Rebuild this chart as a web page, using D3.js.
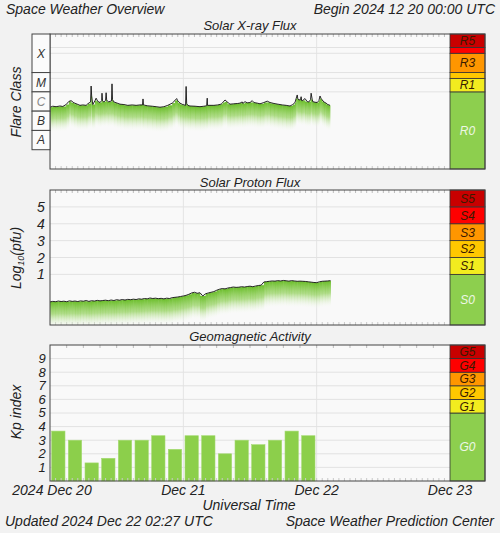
<!DOCTYPE html>
<html><head><meta charset="utf-8">
<script src="https://cdn.jsdelivr.net/npm/d3@7"></script>
<style>
body{margin:0;background:#f2f2f2;}
svg{display:block;font-family:"Liberation Sans",Arial,sans-serif;font-style:italic;}
</style></head><body>
<svg id="c" width="500" height="533"></svg>
<script>
// ---------------- DATA ----------------
const dayTicks = [0, 24, 48, 72];               // hours since 2024-12-20 00:00 UTC
const dayLabels = ["2024 Dec 20", "Dec 21", "Dec 22", "Dec 23"];

// X-ray flux (W/m^2): [hour, flux]
const xrayData = [
 [0,1.6e-6],[0.5,1.8e-6],[1.1,1.7e-6],[1.8,1.85e-6],[2.3,1.75e-6],[2.9,2.2e-6],[3.4,3.2e-6],[3.8,3.5e-6],
 [4.3,2.7e-6],[4.9,2.3e-6],[5.4,2.0e-6],[5.9,2.1e-6],[6.5,2.0e-6],[6.8,2.4e-6],[7.3,3.0e-6],[7.4,2.0e-5],
 [7.5,6e-6],[7.7,2.2e-6],[8.1,3.5e-6],[8.3,4.7e-6],[8.6,3.2e-6],[9.0,2.8e-6],[9.3,3.5e-6],[9.36,8.5e-6],
 [9.45,3.5e-6],[9.7,3.0e-6],[10.0,3.6e-6],[10.1,9e-6],[10.2,3.8e-6],[10.5,3.0e-6],[11.07,3.4e-6],[11.16,2.6e-5],
 [11.25,4e-6],[11.5,3.0e-6],[12.1,2.6e-6],[12.6,2.3e-6],[13.3,2.2e-6],[14.0,2.0e-6],[14.8,2.1e-6],[15.5,2.0e-6],
 [16.2,2.1e-6],[16.65,2.1e-6],[16.74,4.3e-6],[16.83,2.1e-6],[17.5,1.9e-6],[18.4,1.8e-6],[19.1,1.7e-6],[19.8,1.6e-6],
 [20.5,1.7e-6],[21.2,2.0e-6],[22.0,2.6e-6],[22.5,3.6e-6],[22.8,4.5e-6],[23.0,3.4e-6],[23.4,2.6e-6],[23.9,2.2e-6],
 [24.4,2.0e-6],[24.5,1.9e-5],[24.6,2.5e-6],[24.8,2.0e-6],[25.2,1.85e-6],[26.1,1.8e-6],[27.0,1.7e-6],[27.7,1.8e-6],
 [28.2,1.9e-6],[28.3,4.7e-6],[28.35,2.0e-6],[28.8,2.0e-6],[29.5,2.0e-6],[30.2,2.1e-6],[30.8,2.3e-6],[31.1,2.8e-6],
 [31.5,3.8e-6],[31.9,3.0e-6],[32.4,2.3e-6],[33.1,2.4e-6],[33.8,2.5e-6],[34.2,2.6e-6],[34.6,3.0e-6],[34.7,2.5e-6],
 [35.1,3.1e-6],[35.5,2.7e-6],[36.0,2.8e-6],[36.4,3.5e-6],[36.7,2.8e-6],[37.3,2.6e-6],[37.8,2.4e-6],[38.5,2.8e-6],
 [39.1,3.3e-6],[39.6,2.8e-6],[40.3,2.5e-6],[41.0,2.3e-6],[41.8,2.1e-6],[42.5,2.0e-6],[43.2,1.85e-6],[43.7,2.2e-6],
 [44.1,2.8e-6],[44.3,4.5e-6],[44.5,6.9e-6],[44.6,4.5e-6],[44.8,3.8e-6],[45.1,4.0e-6],[45.2,5.6e-6],[45.3,3.5e-6],
 [45.5,3.6e-6],[45.9,4.5e-6],[46.3,3.1e-6],[46.6,3.0e-6],[46.9,4.0e-6],[47.0,8.5e-6],[47.2,4.0e-6],[47.3,3.1e-6],
 [47.7,2.9e-6],[48.1,2.8e-6],[48.4,3.5e-6],[48.6,6.1e-6],[48.8,4.5e-6],[49.0,3.8e-6],[49.3,3.0e-6],[49.7,2.6e-6],
 [50.0,2.2e-6],[50.4,2.0e-6]
];

// Proton flux, log10(pfu), sampled every 0.5 h from 00:00 Dec 20
const protonStep = 0.5;
const protonLog10 = [
 -0.63,-0.60,-0.62,-0.58,-0.61,-0.59,-0.62,-0.57,-0.60,-0.58,
 -0.61,-0.57,-0.59,-0.55,-0.60,-0.56,-0.58,-0.54,-0.57,-0.55,
 -0.53,-0.56,-0.52,-0.55,-0.50,-0.53,-0.49,-0.52,-0.48,-0.50,
 -0.47,-0.49,-0.45,-0.47,-0.43,-0.45,-0.40,-0.43,-0.41,-0.44,
 -0.42,-0.45,-0.41,-0.43,-0.38,-0.36,-0.34,-0.31,-0.28,-0.24,
 -0.18,-0.10,-0.06,-0.12,-0.09,-0.28,-0.15,-0.10,-0.06,-0.02,
  0.06, 0.12, 0.16, 0.14, 0.19, 0.22, 0.25, 0.23, 0.24, 0.27,
  0.25, 0.28, 0.30, 0.27, 0.31, 0.34, 0.36, 0.55, 0.57, 0.59,
  0.61, 0.60, 0.63, 0.61, 0.64, 0.62, 0.60, 0.63, 0.61, 0.59,
  0.60, 0.59, 0.58, 0.56, 0.54, 0.52, 0.51, 0.56, 0.59, 0.60,
  0.61, 0.63
];

// Kp index, 3-hour intervals from 00:00 Dec 20
const kpStep = 3;
const kpValues = [3.67,3.0,1.33,1.67,3.0,3.0,3.33,2.33,3.33,3.33,2.0,3.0,2.67,3.0,3.67,3.33];

const xrayClasses = ["X","M","C","B","A"];
const xrayClassLow = [1e-4,1e-5,1e-6,1e-7,1e-8];
const xrayClassHigh = [1e-2,1e-4,1e-5,1e-6,1e-7];

const rLabels = ["R0","R1","R2","R3","R4","R5"];
const rBounds = [1e-9,1e-5,5e-5,1e-4,1e-3,2e-3,1e-2];
const sLabels = ["S0","S1","S2","S3","S4","S5"];
const sBounds = [-2,1,2,3,4,5,6];
const gLabels = ["G0","G1","G2","G3","G4","G5"];
const gBounds = [0,5,6,7,8,9,10];
const levelColors = ["#8dcf4e","#f2ec1f","#ffc800","#ff9600","#ff0000","#c80000"];

const protonTicks = [1,2,3,4,5];
const kpTicks = [1,2,3,4,5,6,7,8,9];

// ---------------- DRAW ----------------
const svg = d3.select("#c");
const X0 = 50, X1 = 450, SB1 = 485;
const x = d3.scaleLinear().domain([0,72]).range([X0,X1]);

const defs = svg.append("defs");
const grad = defs.append("linearGradient").attr("id","fade").attr("x1",0).attr("y1",0).attr("x2",0).attr("y2",1);
grad.append("stop").attr("offset","0").attr("stop-color","#6cbe2c").attr("stop-opacity",1);
grad.append("stop").attr("offset","0.45").attr("stop-color","#95d260").attr("stop-opacity",0.72);
grad.append("stop").attr("offset","1").attr("stop-color","#ffffff").attr("stop-opacity",0);

const panels = {
  xray: {top:34, bottom:169},
  proton: {top:190, bottom:325},
  geo: {top:345, bottom:481}
};

function panelBase(p, id, topTickStep){
  svg.append("rect").attr("x",X0).attr("y",p.top).attr("width",X1-X0).attr("height",p.bottom-p.top)
    .attr("fill","#f9f9f9");
  defs.append("clipPath").attr("id",id).append("rect")
    .attr("x",X0).attr("y",p.top).attr("width",X1-X0).attr("height",p.bottom-p.top);
  svg.append("g").selectAll("line").data(dayTicks.slice(1,3)).join("line")
    .attr("x1",d=>x(d)).attr("x2",d=>x(d)).attr("y1",p.top).attr("y2",p.bottom)
    .attr("stroke","#e4e4e4");
  const hrs = d3.range(1,72);
  svg.append("g").selectAll("line").data(hrs.filter(h=>h%topTickStep===0)).join("line")
    .attr("x1",d=>x(d)).attr("x2",d=>x(d)).attr("y1",p.top).attr("y2",p.top+3)
    .attr("stroke","#bbb");
}
function panelTicksBottom(p){
  const hrs = d3.range(1,72);
  svg.append("g").selectAll("line").data(hrs).join("line")
    .attr("x1",d=>x(d)).attr("x2",d=>x(d)).attr("y1",p.bottom-3).attr("y2",p.bottom)
    .attr("stroke","#c8c8c8");
}
function frame(p){
  svg.append("rect").attr("x",X0).attr("y",p.top).attr("width",SB1-X0).attr("height",p.bottom-p.top)
    .attr("fill","none").attr("stroke","#444").attr("stroke-width",1);
}
function hgrid(p, ys){
  svg.append("g").selectAll("line").data(ys).join("line")
    .attr("x1",X0).attr("x2",X1).attr("y1",d=>d).attr("y2",d=>d)
    .attr("stroke","#e2e2e2");
}
function sidebar(p, labels, bounds, yScale){
  const segs = labels.map((l,i)=>({l, lo:bounds[i], hi:bounds[i+1], c:levelColors[i], i}));
  const g = svg.append("g");
  g.selectAll("rect").data(segs).join("rect")
    .attr("x",X1).attr("width",SB1-X1)
    .attr("y",d=>yScale(d.hi)).attr("height",d=>yScale(d.lo)-yScale(d.hi))
    .attr("fill",d=>d.c).attr("stroke","#333").attr("stroke-width",0.8);
  g.selectAll("text").data(segs.filter(d=>yScale(d.lo)-yScale(d.hi)>10)).join("text")
    .attr("x",(X1+SB1)/2).attr("y",d=>(yScale(d.lo)+yScale(d.hi))/2).attr("dy","0.36em")
    .attr("text-anchor","middle").attr("font-size",12)
    .attr("fill",d=>d.i===0?"#eef7e6":"#3a1a00").text(d=>d.l);
}
function fadeFill(clipId, pts, depth){
  const g = svg.append("g").attr("clip-path",`url(#${clipId})`);
  const segs = d3.pairs(pts);
  g.selectAll("rect").data(segs).join("rect")
    .attr("x",d=>d[0][0]).attr("width",d=>Math.max(0.6,d[1][0]-d[0][0]+0.4))
    .attr("y",d=>Math.max(d[0][1],d[1][1])).attr("height",depth)
    .attr("fill","url(#fade)");
  return g;
}
function title(t, yy){
  svg.append("text").attr("x",250).attr("y",yy).attr("text-anchor","middle").attr("font-size",13)
    .attr("fill","#222").text(t);
}
function ylabel(cx, cy){
  return svg.append("text").attr("transform",`translate(${cx},${cy}) rotate(-90)`)
    .attr("text-anchor","middle").attr("font-size",14).attr("fill","#222");
}

// Header
svg.append("text").attr("x",6).attr("y",14).attr("font-size",14).attr("fill","#222").text("Space Weather Overview");
svg.append("text").attr("x",495).attr("y",14).attr("text-anchor","end").attr("font-size",14).attr("fill","#222").text("Begin 2024 12 20 00:00 UTC");

// ---- X-ray panel ----
const px = panels.xray;
const yX = d3.scaleLog().domain([1e-9,1e-2]).range([px.bottom,px.top]);
title("Solar X-ray Flux", 30);
panelBase(px, "clipX", 1);
hgrid(px, rBounds.slice(1,6).map(v=>yX(v)));
panelTicksBottom(px);
const xPts = xrayData.map(d=>[x(d[0]), yX(d[1])]);
fadeFill("clipX", xPts, 26);
svg.append("path").attr("d",d3.line()(xPts)).attr("fill","none").attr("stroke","#111").attr("stroke-width",0.9)
  .attr("clip-path","url(#clipX)");
sidebar(px, rLabels, rBounds, yX);
frame(px);
const cls = svg.append("g");
cls.selectAll("rect").data(xrayClasses).join("rect")
  .attr("x",32).attr("width",X0-32)
  .attr("y",(d,i)=>yX(xrayClassHigh[i])).attr("height",(d,i)=>yX(xrayClassLow[i])-yX(xrayClassHigh[i]))
  .attr("fill","#fbfbfb").attr("stroke","#444");
cls.selectAll("text").data(xrayClasses).join("text")
  .attr("x",41).attr("y",(d,i)=>(yX(xrayClassHigh[i])+yX(xrayClassLow[i]))/2).attr("dy","0.36em")
  .attr("text-anchor","middle").attr("font-size",12).attr("fill",d=>d==="C"?"#888":"#333").text(d=>d);
ylabel(21, 102).text("Flare Class");

// ---- Proton panel ----
const pp = panels.proton;
const yP = d3.scaleLinear().domain([-2,6]).range([pp.bottom,pp.top]);
title("Solar Proton Flux", 187);
panelBase(pp, "clipP", 1);
hgrid(pp, protonTicks.map(v=>yP(v)));
panelTicksBottom(pp);
const pPts = protonLog10.map((v,i)=>[x(i*protonStep), yP(v)]);
fadeFill("clipP", pPts, 27);
svg.append("path").attr("d",d3.line()(pPts)).attr("fill","none").attr("stroke","#111").attr("stroke-width",0.9)
  .attr("clip-path","url(#clipP)");
sidebar(pp, sLabels, sBounds, yP);
frame(pp);
svg.append("g").selectAll("text").data(protonTicks).join("text")
  .attr("x",41).attr("y",d=>yP(d)).attr("dy","0.36em").attr("text-anchor","middle")
  .attr("font-size",14).attr("fill","#222").text(d=>d);
const lp = ylabel(21, 258);
lp.append("tspan").text("Log");
lp.append("tspan").attr("font-size",9).attr("dy",3).text("10");
lp.append("tspan").attr("dy",-3).text("(pfu)");

// ---- Geomagnetic panel ----
const pg = panels.geo;
const yG = d3.scaleLinear().domain([0,10]).range([pg.bottom,pg.top]);
title("Geomagnetic Activity", 341);
panelBase(pg, "clipG", 3);
hgrid(pg, kpTicks.map(v=>yG(v)));
const band = d3.scaleBand().domain(d3.range(kpValues.length)).range([x(0), x(kpValues.length*kpStep)]).paddingInner(0.2).paddingOuter(0.1);
svg.append("g").selectAll("rect").data(kpValues).join("rect")
  .attr("x",(d,i)=>band(i)).attr("width",band.bandwidth())
  .attr("y",d=>yG(d)).attr("height",d=>yG(0)-yG(d))
  .attr("fill","#8ccf4b").attr("stroke","#a5da72").attr("stroke-width",0.6);
panelTicksBottom(pg);
sidebar(pg, gLabels, gBounds, yG);
frame(pg);
svg.append("g").selectAll("text").data(kpTicks).join("text")
  .attr("x",42).attr("y",d=>yG(d)).attr("dy","0.34em").attr("text-anchor","middle")
  .attr("font-size",13).attr("fill","#222").text(d=>d);
ylabel(21, 412).text("Kp index");

// Bottom axis
svg.append("g").selectAll("text").data(dayTicks).join("text")
  .attr("x",(d,i)=>x(d)+(i===0?2:0)).attr("y",495).attr("text-anchor","middle")
  .attr("font-size",14).attr("fill","#222").text((d,i)=>dayLabels[i]);
svg.append("text").attr("x",249).attr("y",510).attr("text-anchor","middle").attr("font-size",14).attr("fill","#222").text("Universal Time");
svg.append("text").attr("x",5).attr("y",526).attr("font-size",14).attr("fill","#222").text("Updated 2024 Dec 22 02:27 UTC");
svg.append("text").attr("x",494).attr("y",526).attr("text-anchor","end").attr("font-size",14).attr("fill","#222").text("Space Weather Prediction Center");
</script>
</body></html>
